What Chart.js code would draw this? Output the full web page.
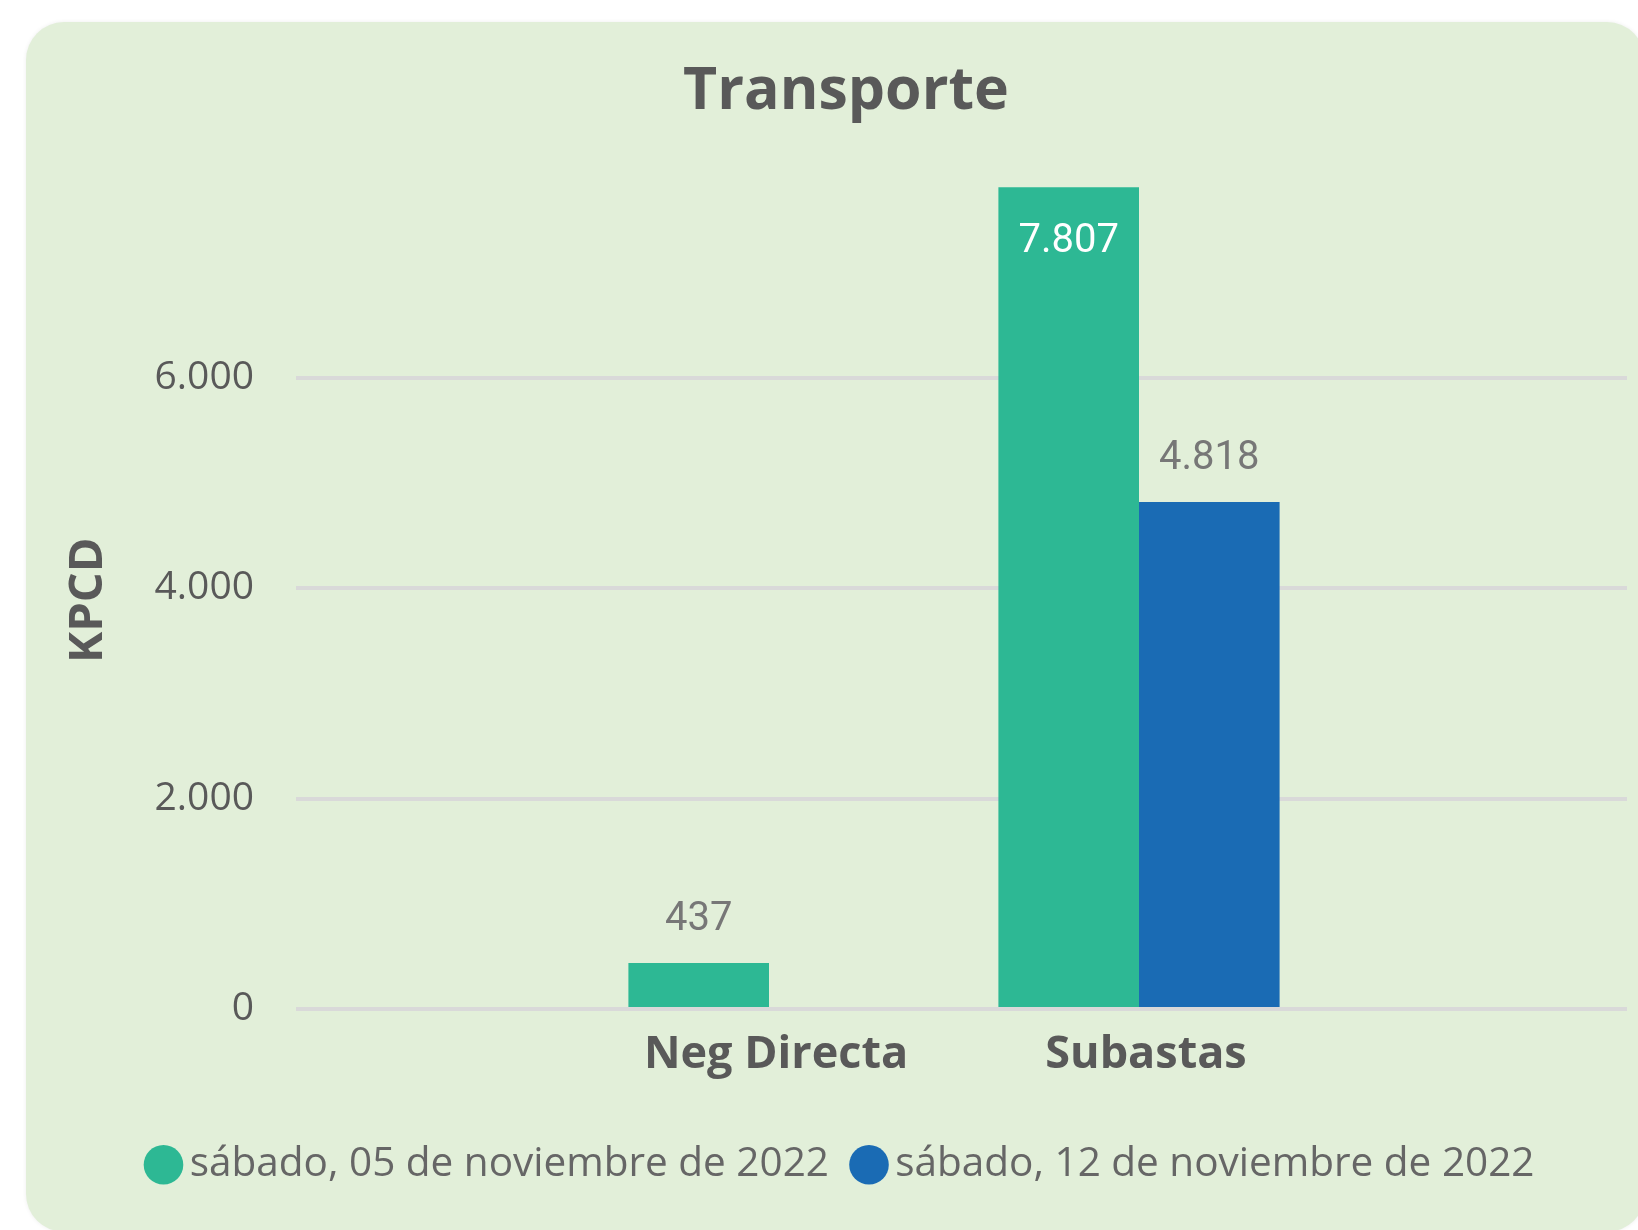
<!DOCTYPE html>
<html><head><meta charset="utf-8">
<script src="https://cdn.jsdelivr.net/npm/chart.js@4.4.1/dist/chart.umd.min.js"></script>
<style>
html,body{margin:0;padding:0;width:1638px;height:1230px;overflow:hidden;background:#ffffff;}
#card{position:absolute;left:26px;top:22px;width:1619px;height:1210px;background:#e2efd9;border-radius:38px;box-shadow:0 0 4px rgba(0,0,0,0.07);}
#wrap{position:absolute;left:65px;top:22px;width:1562px;height:1208px;}
</style></head><body>
<div id="card"></div>
<div id="wrap"><canvas id="c" width="1562" height="1208"></canvas></div>
<script>
const chartTitle = 'Transporte';
const yAxisTitle = 'KPCD';
const categories = ['Neg Directa', 'Subastas'];
const seriesLabels = ['sábado, 05 de noviembre de 2022', 'sábado, 12 de noviembre de 2022'];
const series1 = [437, 7807];
const series2 = [null, 4818];
const yTickValues = [0, 2000, 4000, 6000];
const seriesColors = ['#2db894', '#1a6bb4'];

function fmt(v) {
  return String(Math.round(v)).replace(/\B(?=(\d{3})+(?!\d))/g, '.');
}

const narrowX = {
  id: 'narrowX',
  afterLayout(chart) {
    const xs = chart.scales.x;
    const ca = chart.chartArea;
    const mid = (ca.left + ca.right) / 2 - 7.5;
    const half = 370;
    xs.left = mid - half;
    xs.right = mid + half;
    xs.width = 2 * half;
    xs.configure();
  }
};

const dataLabels = {
  id: 'dataLabels',
  afterDatasetsDraw(chart) {
    const ctx = chart.ctx;
    const top = chart.chartArea.top;
    ctx.save();
    ctx.font = '40px Roboto';
    ctx.textAlign = 'center';
    ctx.textBaseline = 'middle';
    chart.data.datasets.forEach((ds, di) => {
      const meta = chart.getDatasetMeta(di);
      meta.data.forEach((bar, i) => {
        const v = ds.data[i];
        if (v === null || v === undefined) return;
        const above = bar.y - 43;
        if (above - 22 < top) {
          ctx.fillStyle = '#ffffff';
          ctx.fillText(fmt(v), bar.x, bar.y + 55);
        } else {
          ctx.fillStyle = '#777777';
          ctx.fillText(fmt(v), bar.x, above);
        }
      });
    });
    ctx.restore();
  }
};

new Chart(document.getElementById('c'), {
  type: 'bar',
  data: {
    labels: categories,
    datasets: [
      { label: seriesLabels[0], data: series1, backgroundColor: seriesColors[0], borderWidth: 0 },
      { label: seriesLabels[1], data: series2, backgroundColor: seriesColors[1], borderWidth: 0 }
    ]
  },
  options: {
    responsive: false,
    animation: false,
    categoryPercentage: 0.76,
    barPercentage: 1,
    layout: { padding: { left: 0, right: 0, top: 0, bottom: 35 } },
    plugins: {
      tooltip: { enabled: false },
      title: {
        display: true,
        text: chartTitle,
        color: '#595959',
        font: { family: 'Open Sans', size: 59, weight: 'bold', lineHeight: 1.2 },
        padding: { top: 34.6, bottom: 39.6 }
      },
      legend: {
        position: 'bottom',
        labels: {
          usePointStyle: true,
          pointStyle: 'circle',
          boxHeight: 28,
          boxWidth: 12,
          padding: 34,
          color: '#666666',
          font: { family: 'Open Sans', size: 40.5 }
        }
      }
    },
    scales: {
      x: {
        offset: true,
        grid: { display: false, drawTicks: false },
        border: { display: false },
        ticks: {
          color: '#595959',
          padding: 19,
          labelOffset: 7,
          font: { family: 'Open Sans', size: 45, weight: 'bold', lineHeight: 1.2 }
        },
        afterFit(scale) { scale.height = 101.5; }
      },
      y: {
        min: 0,
        max: 8000,
        grid: { color: '#d9d9d9', lineWidth: 4, drawTicks: false },
        border: { display: false },
        ticks: {
          color: '#595959',
          padding: 42,
          font: { family: 'Open Sans', size: 39 },
          callback: (v) => fmt(v)
        },
        afterBuildTicks(scale) { scale.ticks = yTickValues.map(v => ({ value: v })); },
        afterFit(scale) { scale.width = 231; },
        title: {
          display: true,
          text: yAxisTitle + '  ',
          color: '#595959',
          font: { family: 'Open Sans', size: 47, weight: 'bold', lineHeight: 1 },
          padding: { top: 0, bottom: 0 }
        }
      }
    }
  },
  plugins: [narrowX, dataLabels]
});
</script>
</body></html>
